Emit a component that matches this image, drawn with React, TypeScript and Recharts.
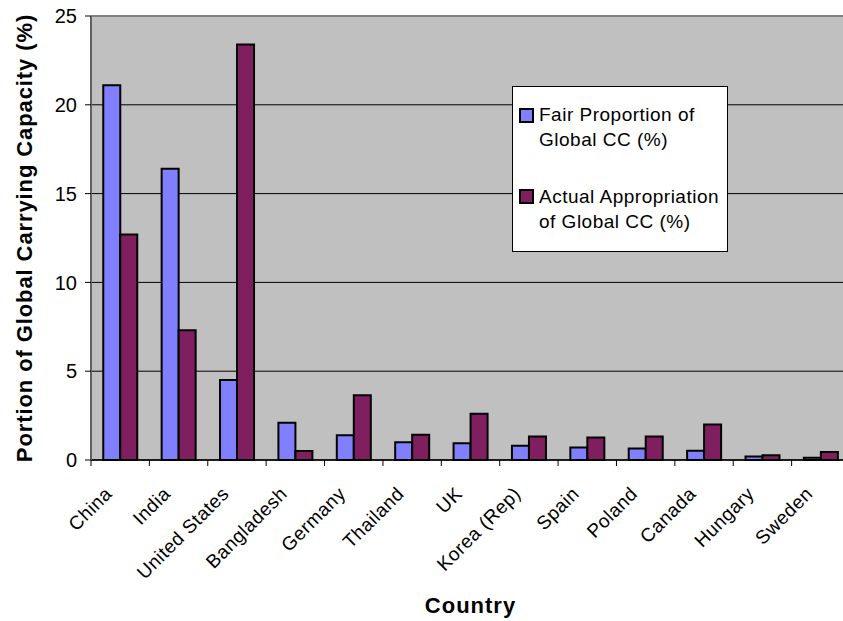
import React from 'react';
import { BarChart, Bar, XAxis, YAxis, CartesianGrid, ReferenceLine } from 'recharts';

const countries = [
  'China', 'India', 'United States', 'Bangladesh', 'Germany', 'Thailand', 'UK',
  'Korea (Rep)', 'Spain', 'Poland', 'Canada', 'Hungary', 'Sweden',
];
const fairShare = [21.1, 16.4, 4.5, 2.1, 1.4, 1.0, 0.95, 0.8, 0.7, 0.65, 0.52, 0.2, 0.12];
const actualShare = [12.7, 7.3, 23.4, 0.5, 3.65, 1.42, 2.6, 1.32, 1.27, 1.33, 2.0, 0.27, 0.45];
const yTicks = [0, 5, 10, 15, 20, 25];

const data = countries.map((country, i) => ({
  country,
  fair: fairShare[i],
  actual: actualShare[i],
}));

const FONT = '"Liberation Sans", Arial, sans-serif';
const W = 860;
const H = 621;
const LEFT = 91;
const RIGHT = 10;
const BAND = (W - LEFT - RIGHT) / countries.length;

function CountryTick({ x, y, payload }: any) {
  const tx = x - 7;
  const ty = y + 35;
  return (
    <g>
      <line x1={x - BAND / 2} y1={y} x2={x - BAND / 2} y2={y + 6} stroke="#000" />
      <text
        x={tx}
        y={ty}
        textAnchor="end"
        transform={`rotate(-45 ${tx} ${ty})`}
        fontSize={19}
        letterSpacing={0.5}
        fontFamily={FONT}
        fill="#000"
      >
        {payload.value}
      </text>
    </g>
  );
}

function YTitle() {
  return (
    <text
      x={32}
      y={238}
      textAnchor="middle"
      transform="rotate(-90 32 238)"
      fontSize={22}
      letterSpacing={0.9}
      fontWeight="bold"
      fontFamily={FONT}
      fill="#000"
    >
      Portion of Global Carrying Capacity (%)
    </text>
  );
}

const swatch = (color: string) => ({
  position: 'absolute' as const,
  left: 6,
  width: 11,
  height: 11,
  border: '2px solid #000',
  background: color,
});

export default function App() {
  return (
    <div
      style={{
        position: 'absolute',
        left: 0,
        top: 0,
        width: 843,
        height: 621,
        overflow: 'hidden',
        background: '#fff',
        fontFamily: FONT,
      }}
    >
      <BarChart
        width={W}
        height={H}
        data={data}
        margin={{ top: 16, right: RIGHT, left: 0, bottom: 0 }}
        barCategoryGap="21%"
        barGap={0}
      >
        <CartesianGrid vertical={false} stroke="#000" fill="#c0c0c0" />
        <ReferenceLine y={25} stroke="#808080" strokeWidth={2} />
        <XAxis
          dataKey="country"
          height={161}
          interval={0}
          tickSize={0}
          tickMargin={0}
          tick={<CountryTick />}
          axisLine={{ stroke: '#000', strokeWidth: 1.5 }}
          label={{
            value: 'Country',
            position: 'insideBottom',
            offset: 8,
            fontSize: 22,
            fontWeight: 'bold',
            letterSpacing: 1,
            fill: '#000',
            fontFamily: FONT,
          }}
        />
        <YAxis
          width={LEFT}
          domain={[0, 25]}
          ticks={yTicks}
          interval={0}
          tickSize={6}
          tickMargin={8}
          tick={{ fill: '#000', fontSize: 20, fontFamily: FONT }}
          tickLine={{ stroke: '#000' }}
          axisLine={{ stroke: '#606060', strokeWidth: 2 }}
          label={<YTitle />}
        />
        <Bar dataKey="fair" fill="#8080ff" stroke="#000" strokeWidth={2} isAnimationActive={false} />
        <Bar dataKey="actual" fill="#801f5f" stroke="#000" strokeWidth={2} isAnimationActive={false} />
      </BarChart>

      <div
        style={{
          position: 'absolute',
          left: 512,
          top: 86,
          width: 214,
          height: 164,
          background: '#fff',
          border: '1px solid #000',
          fontSize: 19,
          letterSpacing: 0.5,
          lineHeight: '25px',
          color: '#000',
        }}
      >
        <div style={{ ...swatch('#8080ff'), top: 21 }} />
        <div style={{ position: 'absolute', left: 26, top: 15 }}>
          Fair Proportion of
          <br />
          Global CC (%)
        </div>
        <div style={{ ...swatch('#801f5f'), top: 102 }} />
        <div style={{ position: 'absolute', left: 26, top: 97 }}>
          Actual Appropriation
          <br />
          of Global CC (%)
        </div>
      </div>
    </div>
  );
}
